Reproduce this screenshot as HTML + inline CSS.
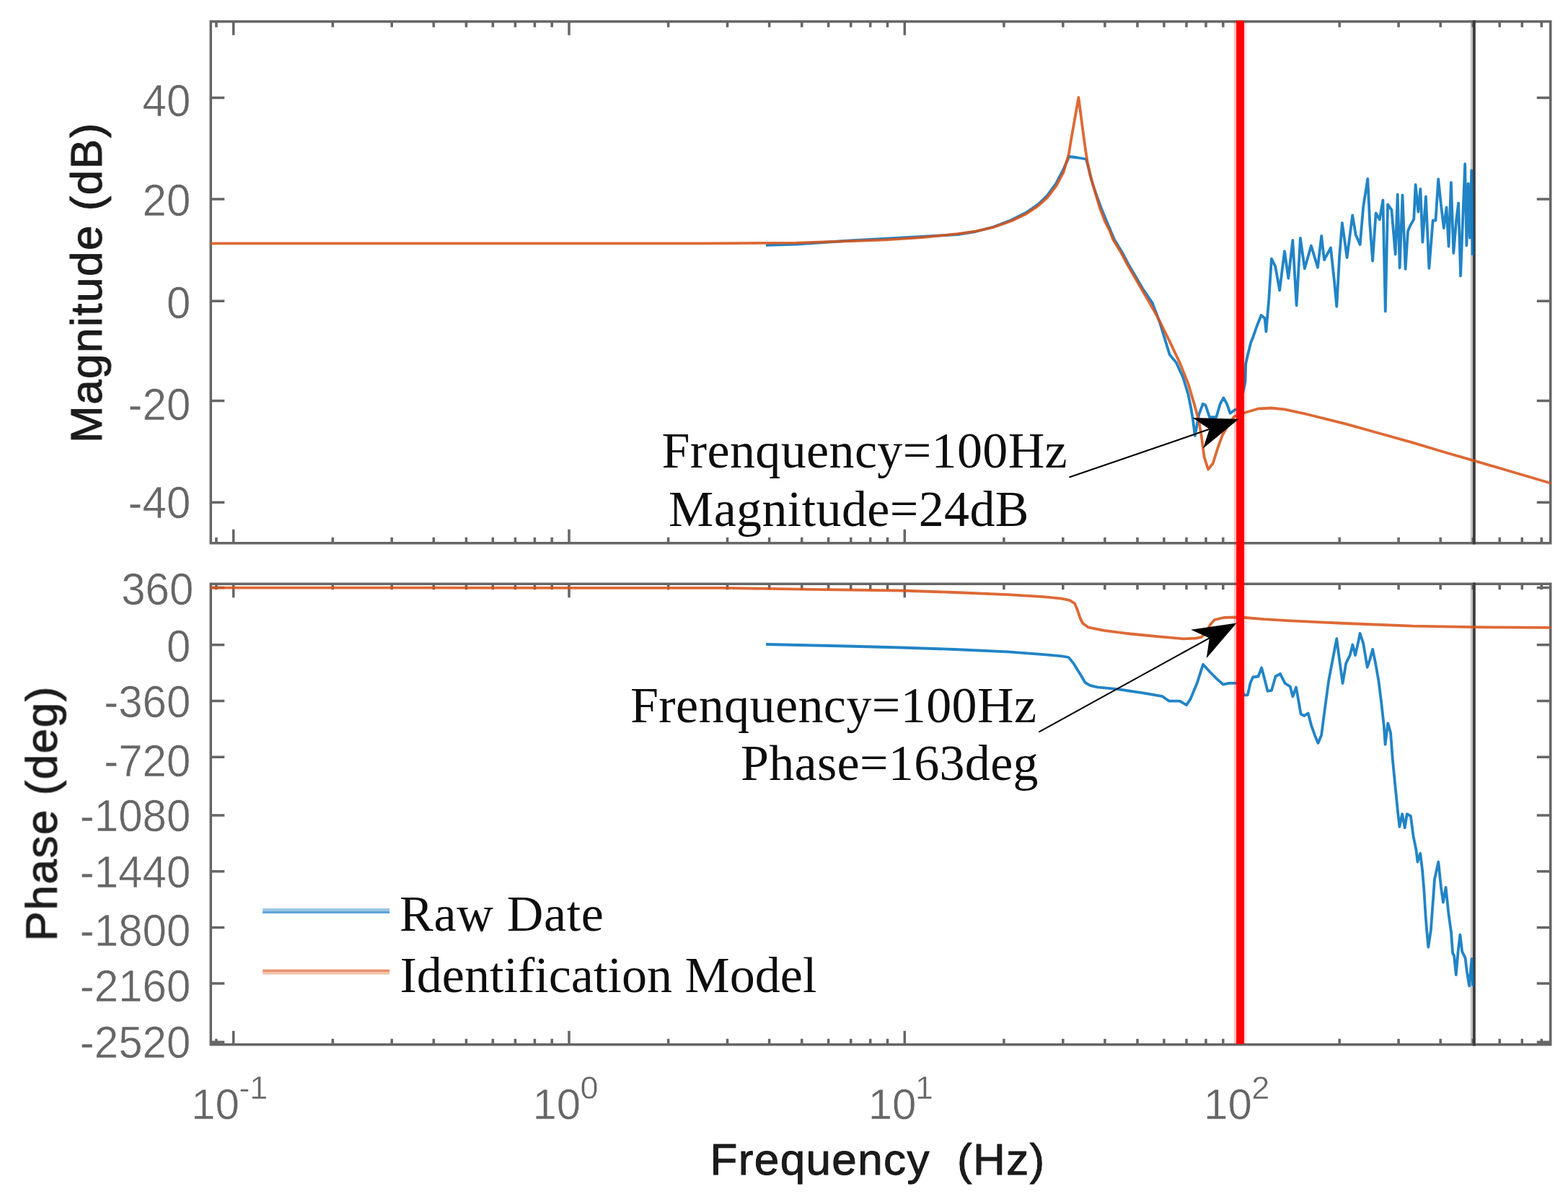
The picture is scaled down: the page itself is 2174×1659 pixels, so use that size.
<!DOCTYPE html>
<html lang="en"><head><meta charset="utf-8"><title>Bode plot</title>
<style>html,body{margin:0;padding:0;background:#fff}body{width:2174px;height:1659px;overflow:hidden}svg{display:block}</style>
</head><body>
<svg width="2174" height="1659" viewBox="0 0 2174 1659">
<rect width="2174" height="1659" fill="#fff"/>
<defs><clipPath id="ct"><rect x="290.5" y="28.1" width="1861.0" height="726.4"/></clipPath><clipPath id="cb"><rect x="290.5" y="807.5" width="1861.0" height="642.0"/></clipPath><filter id="bl" x="0" y="0" width="2174" height="1659" filterUnits="userSpaceOnUse"><feGaussianBlur stdDeviation="0.7"/></filter></defs>
<g>
<rect x="2038.8" y="29.85" width="3.3" height="722.90" fill="#c4c4c4"/>
<rect x="2038.8" y="809.25" width="3.3" height="638.50" fill="#c4c4c4"/>
<g stroke="#666666" stroke-width="3.5" fill="none">
<rect x="292.25" y="29.85" width="1857.5" height="722.9"/>
<path d="M299.9 29.85v8.0M299.9 752.75v-8.0M323.7 29.85v19.0M323.7 752.75v-19.0M461.3 29.85v8.0M461.3 752.75v-8.0M543.2 29.85v8.0M543.2 752.75v-8.0M601.3 29.85v8.0M601.3 752.75v-8.0M646.4 29.85v8.0M646.4 752.75v-8.0M683.3 29.85v8.0M683.3 752.75v-8.0M714.4 29.85v8.0M714.4 752.75v-8.0M741.4 29.85v8.0M741.4 752.75v-8.0M765.2 29.85v8.0M765.2 752.75v-8.0M789.0 29.85v19.0M789.0 752.75v-19.0M926.6 29.85v8.0M926.6 752.75v-8.0M1008.5 29.85v8.0M1008.5 752.75v-8.0M1066.6 29.85v8.0M1066.6 752.75v-8.0M1111.7 29.85v8.0M1111.7 752.75v-8.0M1148.6 29.85v8.0M1148.6 752.75v-8.0M1179.7 29.85v8.0M1179.7 752.75v-8.0M1206.7 29.85v8.0M1206.7 752.75v-8.0M1230.5 29.85v8.0M1230.5 752.75v-8.0M1254.3 29.85v19.0M1254.3 752.75v-19.0M1391.9 29.85v8.0M1391.9 752.75v-8.0M1473.8 29.85v8.0M1473.8 752.75v-8.0M1531.9 29.85v8.0M1531.9 752.75v-8.0M1577.0 29.85v8.0M1577.0 752.75v-8.0M1613.9 29.85v8.0M1613.9 752.75v-8.0M1645.0 29.85v8.0M1645.0 752.75v-8.0M1672.0 29.85v8.0M1672.0 752.75v-8.0M1695.8 29.85v8.0M1695.8 752.75v-8.0M1719.6 29.85v19.0M1719.6 752.75v-19.0M1857.2 29.85v8.0M1857.2 752.75v-8.0M1939.1 29.85v8.0M1939.1 752.75v-8.0M1997.2 29.85v8.0M1997.2 752.75v-8.0M2042.3 29.85v8.0M2042.3 752.75v-8.0M2079.2 29.85v8.0M2079.2 752.75v-8.0M2110.3 29.85v8.0M2110.3 752.75v-8.0M2137.3 29.85v8.0M2137.3 752.75v-8.0M292.25 135.5h19.0M2149.75 135.5h-19.0M292.25 276h19.0M2149.75 276h-19.0M292.25 417.2h19.0M2149.75 417.2h-19.0M292.25 555.5h19.0M2149.75 555.5h-19.0M292.25 696.2h19.0M2149.75 696.2h-19.0"/>
</g>
<g stroke="#666666" stroke-width="3.5" fill="none">
<rect x="292.25" y="809.25" width="1857.5" height="638.5"/>
<path d="M299.9 809.25v8.0M299.9 1447.75v-8.0M323.7 809.25v19.0M323.7 1447.75v-19.0M461.3 809.25v8.0M461.3 1447.75v-8.0M543.2 809.25v8.0M543.2 1447.75v-8.0M601.3 809.25v8.0M601.3 1447.75v-8.0M646.4 809.25v8.0M646.4 1447.75v-8.0M683.3 809.25v8.0M683.3 1447.75v-8.0M714.4 809.25v8.0M714.4 1447.75v-8.0M741.4 809.25v8.0M741.4 1447.75v-8.0M765.2 809.25v8.0M765.2 1447.75v-8.0M789.0 809.25v19.0M789.0 1447.75v-19.0M926.6 809.25v8.0M926.6 1447.75v-8.0M1008.5 809.25v8.0M1008.5 1447.75v-8.0M1066.6 809.25v8.0M1066.6 1447.75v-8.0M1111.7 809.25v8.0M1111.7 1447.75v-8.0M1148.6 809.25v8.0M1148.6 1447.75v-8.0M1179.7 809.25v8.0M1179.7 1447.75v-8.0M1206.7 809.25v8.0M1206.7 1447.75v-8.0M1230.5 809.25v8.0M1230.5 1447.75v-8.0M1254.3 809.25v19.0M1254.3 1447.75v-19.0M1391.9 809.25v8.0M1391.9 1447.75v-8.0M1473.8 809.25v8.0M1473.8 1447.75v-8.0M1531.9 809.25v8.0M1531.9 1447.75v-8.0M1577.0 809.25v8.0M1577.0 1447.75v-8.0M1613.9 809.25v8.0M1613.9 1447.75v-8.0M1645.0 809.25v8.0M1645.0 1447.75v-8.0M1672.0 809.25v8.0M1672.0 1447.75v-8.0M1695.8 809.25v8.0M1695.8 1447.75v-8.0M1719.6 809.25v19.0M1719.6 1447.75v-19.0M1857.2 809.25v8.0M1857.2 1447.75v-8.0M1939.1 809.25v8.0M1939.1 1447.75v-8.0M1997.2 809.25v8.0M1997.2 1447.75v-8.0M2042.3 809.25v8.0M2042.3 1447.75v-8.0M2079.2 809.25v8.0M2079.2 1447.75v-8.0M2110.3 809.25v8.0M2110.3 1447.75v-8.0M2137.3 809.25v8.0M2137.3 1447.75v-8.0M292.25 814.5h19.0M2149.75 814.5h-19.0M292.25 893.8h19.0M2149.75 893.8h-19.0M292.25 971.4h19.0M2149.75 971.4h-19.0M292.25 1049.2h19.0M2149.75 1049.2h-19.0M292.25 1130.1h19.0M2149.75 1130.1h-19.0M292.25 1207.7h19.0M2149.75 1207.7h-19.0M292.25 1285.4h19.0M2149.75 1285.4h-19.0M292.25 1363h19.0M2149.75 1363h-19.0M292.25 1444.2h19.0M2149.75 1444.2h-19.0"/>
</g>
<rect x="2042.0" y="28.10" width="3.8" height="726.40" fill="#3c3c3c"/>
<rect x="2042.0" y="807.50" width="3.8" height="642.00" fill="#3c3c3c"/>
</g>
<g filter="url(#bl)">
<g clip-path="url(#ct)">
<polyline points="1062.0,339.8 1104.0,338.5 1178.7,333.5 1228.4,330.6 1278.0,328.0 1327.7,325.0 1352.6,321.0 1377.4,314.5 1402.2,305.0 1422.1,295.0 1439.5,283.0 1451.9,271.0 1464.3,254.0 1474.3,235.0 1482.2,217.0 1494.0,218.5 1505.8,220.5 1509.0,231.8 1514.0,252.0 1520.0,270.0 1527.0,289.0 1534.0,306.0 1545.0,332.0 1556.0,350.0 1564.5,366.1 1585.0,401.1 1597.7,419.7 1608.0,447.0 1614.3,467.5 1621.7,491.5 1630.9,502.6 1640.2,522.9 1647.5,546.8 1651.2,565.3 1654.0,581.9 1656.8,604.0 1662.3,574.5 1667.8,559.7 1671.5,561.6 1677.0,578.2 1686.3,578.2 1691.8,559.7 1696.4,551.4 1701.0,559.7 1705.6,572.7 1712.1,568.0 1719.0,566.0 1726.5,528.4 1727.2,504.4 1730.5,489.7 1734.2,474.9 1737.9,465.7 1742.6,452.0 1748.6,437.0 1753.6,441.0 1755.4,459.5 1759.2,415.9 1762.9,358.6 1768.2,369.2 1774.2,402.3 1781.0,348.1 1786.3,385.7 1792.3,333.0 1797.6,423.4 1802.9,330.0 1808.9,372.2 1817.9,340.5 1827.0,370.7 1832.2,327.0 1836.0,360.1 1845.0,343.5 1849.6,385.7 1853.3,424.9 1857.1,355.6 1860.9,308.9 1867.6,357.1 1875.2,298.3 1879.7,325.5 1885.7,339.0 1890.2,286.3 1896.3,247.9 1899.3,310.4 1903.1,361.6 1907.6,295.3 1912.8,304.4 1917.4,277.3 1920.8,431.5 1924.1,283.3 1929.4,290.8 1934.7,352.5 1937.7,269.5 1940.7,371.3 1944.5,270.3 1948.6,372.8 1952.0,320.6 1955.8,311.6 1960.3,304.0 1962.6,255.8 1966.3,293.5 1969.4,261.8 1972.4,335.7 1976.9,272.4 1981.4,371.9 1986.7,305.5 1990.5,305.5 1994.2,248.2 1998.0,284.4 2001.8,316.1 2005.5,287.4 2008.6,341.7 2011.9,252.8 2015.3,350.8 2019.1,305.5 2022.1,281.4 2025.1,382.4 2028.1,305.5 2031.2,227.1 2033.4,340.2 2035.7,254.3 2037.9,329.7 2040.2,236.2 2041.7,353.8" fill="none" stroke="#0072BD" stroke-width="3.8" stroke-opacity="0.87" stroke-linejoin="round"/>
<polyline points="292.0,337.3 980.0,337.3 1104.2,336.6 1178.7,334.1 1228.4,332.4 1278.0,329.1 1327.7,324.2 1352.6,320.7 1377.4,315.0 1402.2,306.3 1422.1,296.8 1439.5,285.2 1451.9,274.0 1464.3,257.9 1474.3,239.2 1481.7,214.4 1486.3,186.5 1491.2,158.8 1495.4,135.0 1500.2,172.0 1504.4,203.2 1507.8,225.4 1511.3,242.0 1518.2,265.6 1525.2,289.1 1532.1,307.2 1538.7,320.0 1543.2,332.1 1554.3,350.0 1562.7,366.1 1583.0,401.1 1603.3,436.2 1621.7,473.1 1636.5,504.4 1647.5,532.1 1656.8,563.4 1662.3,583.7 1666.0,606.0 1669.6,633.3 1675.1,650.5 1681.6,642.5 1688.0,622.2 1694.5,603.8 1701.9,590.9 1711.0,577.5 1725.8,572.0 1744.3,566.5 1762.7,565.5 1781.2,567.3 1808.8,573.3 1840.0,581.2 1866.2,587.6 1912.3,600.5 1958.4,613.4 2004.5,627.2 2043.3,638.3 2096.7,654.0 2150.2,669.7" fill="none" stroke="#D95319" stroke-width="3.8" stroke-opacity="0.87" stroke-linejoin="round"/>
</g>
<g clip-path="url(#cb)">
<polyline points="1062.1,893.0 1173.9,895.5 1248.4,897.5 1322.9,900.0 1397.4,903.4 1447.1,907.2 1471.9,909.4 1481.5,911.0 1488.2,919.1 1494.3,929.0 1499.3,937.0 1504.5,946.0 1511.7,950.1 1521.4,952.3 1549.1,955.1 1586.0,960.6 1611.8,965.2 1621.0,971.7 1635.8,971.7 1645.0,977.2 1650.5,968.9 1659.7,946.8 1668.0,920.9 1678.2,932.0 1687.4,941.2 1695.7,948.6 1704.0,946.8 1714.7,946.8 1722.0,950.0 1724.3,963.4 1729.8,963.4 1733.5,946.8 1737.2,938.5 1744.6,937.5 1749.2,925.5 1753.8,943.1 1757.5,957.8 1763.0,956.9 1768.5,937.5 1775.0,933.8 1781.5,946.8 1788.8,951.5 1792.4,965.4 1797.0,952.5 1800.7,972.8 1803.5,989.4 1808.1,992.1 1813.7,988.5 1818.3,1006.0 1822.9,1018.9 1827.5,1029.9 1832.1,1018.9 1836.7,983.8 1842.2,943.3 1847.8,913.8 1853.3,885.2 1857.0,913.8 1861.6,947.0 1866.2,919.3 1871.7,908.2 1875.4,893.5 1879.1,908.2 1882.8,891.6 1885.6,877.8 1890.2,891.6 1895.7,924.8 1899.4,913.8 1903.1,899.9 1906.8,917.5 1911.4,943.3 1915.1,972.8 1918.8,1006.0 1920.6,1031.8 1924.3,1002.3 1928.0,1015.2 1930.8,1052.1 1934.4,1089.0 1938.2,1126.6 1940.4,1145.8 1944.1,1128.1 1947.8,1147.3 1950.7,1128.1 1955.9,1131.0 1959.6,1159.1 1963.3,1176.8 1965.5,1194.5 1969.2,1182.7 1972.1,1206.3 1974.3,1232.9 1976.6,1269.8 1978.8,1296.4 1980.3,1312.6 1983.9,1289.0 1986.9,1247.7 1989.1,1218.1 1994.3,1194.5 1998.0,1229.9 2000.9,1250.6 2004.6,1229.9 2008.3,1265.4 2012.0,1292.0 2014.2,1321.5 2016.1,1324.4 2018.8,1351.0 2021.6,1318.8 2024.4,1295.5 2027.2,1318.8 2031.6,1327.7 2033.8,1346.5 2037.1,1366.5 2040.5,1328.8 2042.1,1366.5" fill="none" stroke="#0072BD" stroke-width="3.8" stroke-opacity="0.87" stroke-linejoin="round"/>
<polyline points="292.0,814.6 600.0,814.7 1000.0,814.9 1124.2,816.8 1248.4,818.5 1322.9,821.0 1397.4,824.2 1447.1,827.2 1471.9,829.7 1482.7,831.8 1490.1,836.4 1493.8,845.3 1497.5,856.4 1501.1,863.8 1508.5,869.3 1530.7,873.9 1567.5,878.5 1604.4,882.2 1641.3,885.3 1658.0,884.6 1665.3,883.1 1670.8,878.5 1678.2,865.6 1683.7,859.2 1696.6,856.0 1711.4,855.5 1726.1,856.0 1751.9,858.2 1788.8,860.4 1820.0,861.9 1866.2,864.0 1958.4,867.7 2043.3,869.1 2150.2,869.9" fill="none" stroke="#D95319" stroke-width="3.8" stroke-opacity="0.87" stroke-linejoin="round"/>
</g>
</g>
<g>
<rect x="364.2" y="1259.0" width="176" height="3.5" fill="#9cc7e6"/><rect x="364.2" y="1262.5" width="176" height="3.5" fill="#5fa4d6"/>
<rect x="364.2" y="1343.6" width="176" height="3.5" fill="#e8916a"/><rect x="364.2" y="1347.1" width="176" height="3.5" fill="#f3c0aa"/>
<rect x="1710.8" y="29.5" width="3.4" height="1417.5" fill="#ff0000" fill-opacity="0.25"/>
<rect x="1714.1" y="28.6" width="10.9" height="1418.4" fill="#ff0000"/>
<rect x="1725.0" y="29.5" width="3.3" height="1417.5" fill="#ff0000" fill-opacity="0.13"/>
</g>
<g filter="url(#bl)">
<line x1="1482.4" y1="661.6" x2="1676.8" y2="594.8" stroke="#000" stroke-width="2.1"/>
<polygon points="1717.5,580.8 1668.1,621.6 1676.8,594.8 1653.4,579.0" fill="#000"/>
<line x1="1440.3" y1="1014.6" x2="1676.8" y2="884.3" stroke="#000" stroke-width="2.1"/>
<polygon points="1714.5,863.5 1672.8,912.2 1676.8,884.3 1651.1,872.8" fill="#000"/>
</g>
<g filter="url(#bl)">
<g font-family="'Liberation Sans', Arial, sans-serif" font-size="60" fill="#666666" stroke="#fff" stroke-width="0.5" text-anchor="end">
<text id="t40" transform="translate(264.3 160.8) scale(1 1.045)">40</text>
<text id="t20" transform="translate(264.3 299.0) scale(1 1.045)">20</text>
<text id="t0" transform="translate(264.3 441.0) scale(1 1.045)">0</text>
<text id="tm20" transform="translate(264.3 582.3) scale(1 1.045)">-20</text>
<text id="tm40" transform="translate(264.3 718.0) scale(1 1.045)">-40</text>
<text id="p360" transform="translate(268.3 838.0) scale(1 1.045)">360</text>
<text id="p0" transform="translate(264.3 916.6) scale(1 1.045)">0</text>
<text id="pm360" transform="translate(264.3 994.0) scale(1 1.045)">-360</text>
<text id="pm720" transform="translate(264.3 1075.5) scale(1 1.045)">-720</text>
<text id="pm1080" transform="translate(264.3 1152.0) scale(1 1.045)">-1080</text>
<text id="pm1440" transform="translate(264.3 1230.0) scale(1 1.045)">-1440</text>
<text id="pm1800" transform="translate(264.3 1311.0) scale(1 1.045)">-1800</text>
<text id="pm2160" transform="translate(264.3 1388.0) scale(1 1.045)">-2160</text>
<text id="pm2520" transform="translate(264.3 1465.5) scale(1 1.045)">-2520</text>
</g>
<g font-family="'Liberation Sans', Arial, sans-serif" font-size="60" fill="#666666" stroke="#fff" stroke-width="0.5">
<text id="xm1" transform="translate(265.2 1550.5) scale(1 1.0)">10<tspan font-size="45" dy="-28" dx="-0.7">-1</tspan></text>
<text id="x0" transform="translate(738.5 1550.5) scale(1 1.0)">10<tspan font-size="45" dy="-28" dx="-0.7">0</tspan></text>
<text id="x1" transform="translate(1203.7 1550.5) scale(1 1.0)">10<tspan font-size="45" dy="-28" dx="-1.5">1</tspan></text>
<text id="x2" transform="translate(1669.1 1550.5) scale(1 1.0)">10<tspan font-size="45" dy="-28" dx="-0.7">2</tspan></text>
</g>
<g font-family="'Liberation Sans', Arial, sans-serif" font-size="62" fill="#1a1a1a" stroke="#1a1a1a" stroke-width="1.0" stroke-linejoin="round">
<text id="xlabel" x="984.5" y="1628.0" textLength="463.7" lengthAdjust="spacing" xml:space="preserve" style="white-space:pre">Frequency  (Hz)</text>
<text id="ymag" transform="translate(140.8 614.0) rotate(-90)" textLength="443.3" lengthAdjust="spacing">Magnitude (dB)</text>
<text id="yph" transform="translate(78.6 1304.5) rotate(-90)" textLength="353.0" lengthAdjust="spacing">Phase (deg)</text>
</g>
<g font-family="'Liberation Serif', 'Times New Roman', serif" font-size="70" fill="#111" stroke="#111" stroke-width="0.0">
<text id="ann1a" x="917.5" y="648.0" textLength="562.2" lengthAdjust="spacing">Frenquency=100Hz</text>
<text id="ann1b" x="927.0" y="728.5" textLength="499.5" lengthAdjust="spacing">Magnitude=24dB</text>
<text id="ann2a" x="874.0" y="1000.8" textLength="563.1" lengthAdjust="spacing">Frenquency=100Hz</text>
<text id="ann2b" x="1027.0" y="1081.3" textLength="412.6" lengthAdjust="spacing">Phase=163deg</text>
<text id="leg1" x="554.0" y="1290.0" textLength="282.9" lengthAdjust="spacing">Raw Date</text>
<text id="leg2" x="554.5" y="1375.0" textLength="577.9" lengthAdjust="spacing">Identification Model</text>
</g>
</g>
</svg>
</body></html>
